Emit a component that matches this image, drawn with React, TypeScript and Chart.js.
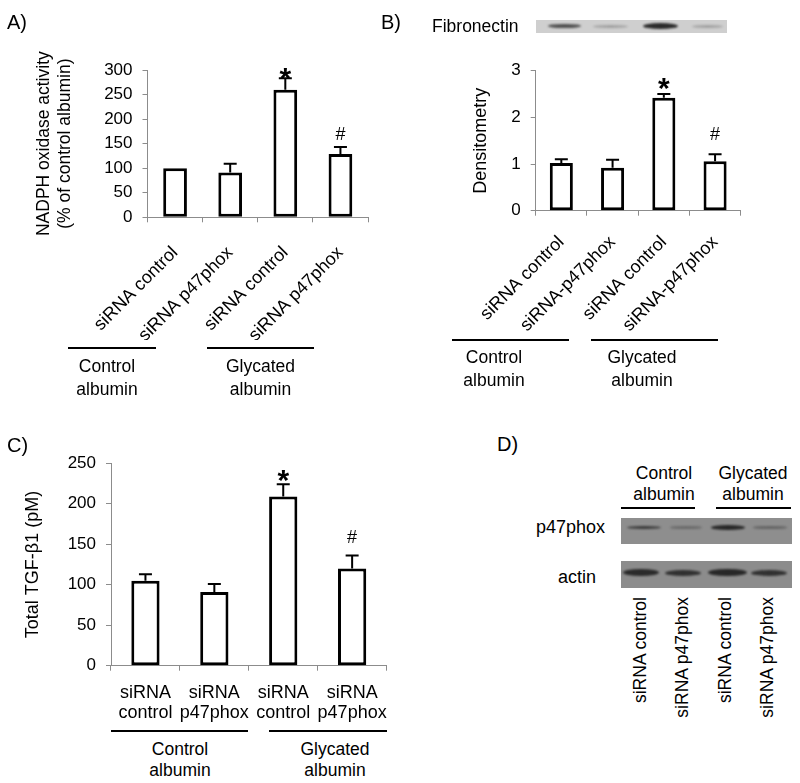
import React, { useEffect, useRef } from 'react';
import { Chart, registerables } from 'chart.js';

Chart.register(...registerables);

const FONT = "'Liberation Sans', Arial, Helvetica, sans-serif";
const AXIS = '#8c8c8c';

// ---------- Panel A data ----------
const aCategories = ['siRNA control', 'siRNA p47phox', 'siRNA control', 'siRNA p47phox'];
const aValues = [100, 91, 260, 129];
const aErrors = [0, 18, 23, 14];
const aMarks = ['', '', '*', '#'];
const aTicks = [0, 50, 100, 150, 200, 250, 300];
const aTitle = ['NADPH oxidase activity', '(% of control albumin)'];

// ---------- Panel B data ----------
const bCategories = ['siRNA control', 'siRNA-p47phox', 'siRNA control', 'siRNA-p47phox'];
const bValues = [1.02, 0.92, 2.42, 1.06];
const bErrors = [0.08, 0.17, 0.08, 0.15];
const bMarks = ['', '', '*', '#'];
const bTicks = [0, 1, 2, 3];
const bTitle = 'Densitometry';

// ---------- Panel C data ----------
const cCategories = [['siRNA', 'control'], ['siRNA', 'p47phox'], ['siRNA', 'control'], ['siRNA', 'p47phox']];
const cValues = [105, 91, 209, 120];
const cErrors = [8, 10, 15, 16];
const cMarks = ['', '', '*', '#'];
const cTicks = [0, 50, 100, 150, 200, 250];
const cTitle = 'Total TGF-\u03b21 (pM)';

// ---------- Shared labels ----------
const groupLabels = [['Control', 'albumin'], ['Glycated', 'albumin']];
const dLaneLabels = ['siRNA control', 'siRNA p47phox', 'siRNA control', 'siRNA p47phox'];
const dBlotNames = ['p47phox', 'actin'];

const errorBarPlugin = {
  id: 'errorBars',
  afterDatasetsDraw(chart: any, _args: any, opts: any) {
    const { ctx } = chart;
    const meta = chart.getDatasetMeta(0);
    const ys = chart.scales.y;
    const data = chart.data.datasets[0].data;
    meta.data.forEach((bar: any, i: number) => {
      const v = data[i];
      const e = opts.errors[i];
      const yBar = ys.getPixelForValue(v);
      const yTop = ys.getPixelForValue(v + e);
      ctx.save();
      ctx.strokeStyle = '#000';
      ctx.lineWidth = 2;
      if (e > 0) {
        ctx.beginPath();
        ctx.moveTo(bar.x, yBar);
        ctx.lineTo(bar.x, yTop);
        ctx.moveTo(bar.x - opts.cap / 2, yTop);
        ctx.lineTo(bar.x + opts.cap / 2, yTop);
        ctx.stroke();
      }
      const m = opts.marks[i];
      if (m) {
        const star = m === '*';
        const size = star ? opts.starSize : opts.hashSize;
        const dy = star ? opts.starDy : opts.hashDy;
        ctx.fillStyle = '#000';
        ctx.font = (star ? 'bold ' : '') + size + 'px ' + FONT;
        ctx.textAlign = 'center';
        ctx.textBaseline = 'alphabetic';
        const y = yTop - dy + (star ? 0.57 : 0.36) * size;
        ctx.fillText(m, bar.x, y);
      }
      ctx.restore();
    });
  },
};

type PanelCfg = {
  left: number; top: number; w: number; h: number;
  area: { l: number; t: number; r: number; b: number };
  labels: any[]; values: number[]; errors: number[]; marks: string[]; ticks: number[];
  title: any; titlePad: number; titleSize: number;
  rot: number; xPad: number; xSize: number; xLh: number; barPct: number;
  starDy: number; hashDy: number;
};

function BarPanel({ cfg }: { cfg: PanelCfg }) {
  const ref = useRef<HTMLCanvasElement>(null);
  useEffect(() => {
    const c = cfg;
    const chart = new Chart(ref.current as HTMLCanvasElement, {
      type: 'bar',
      data: {
        labels: c.labels,
        datasets: [{
          data: c.values,
          backgroundColor: '#ffffff',
          borderColor: '#000000',
          borderWidth: 3,
          borderSkipped: false,
          barPercentage: c.barPct,
          categoryPercentage: 1,
        }],
      },
      options: {
        animation: false,
        responsive: false,
        maintainAspectRatio: false,
        devicePixelRatio: 1,
        layout: { padding: { left: 0, top: c.area.t - c.top, right: c.left + c.w - c.area.r, bottom: 0 } },
        plugins: {
          legend: { display: false },
          tooltip: { enabled: false },
          errorBars: {
            errors: c.errors, marks: c.marks, cap: 13,
            starSize: 30, hashSize: 18, starDy: c.starDy, hashDy: c.hashDy,
          },
        } as any,
        scales: {
          x: {
            type: 'category',
            offset: true,
            grid: { display: true, drawOnChartArea: false, drawTicks: true, tickLength: 5, color: AXIS, offset: true },
            border: { display: true, color: AXIS, width: 1 },
            ticks: {
              autoSkip: false, minRotation: c.rot, maxRotation: c.rot, padding: c.xPad, color: '#000',
              font: { size: c.xSize, family: FONT, lineHeight: c.xLh },
            },
            afterFit: (s: any) => { s.height = c.top + c.h - c.area.b; },
          },
          y: {
            min: c.ticks[0],
            max: c.ticks[c.ticks.length - 1],
            grid: { display: true, drawOnChartArea: false, drawTicks: true, tickLength: 5, color: AXIS },
            border: { display: true, color: AXIS, width: 1 },
            ticks: { padding: 10, color: '#000', font: { size: 17, family: FONT, lineHeight: 1.2 } },
            afterBuildTicks: (s: any) => { s.ticks = c.ticks.map((v) => ({ value: v })); },
            afterFit: (s: any) => { s.width = c.area.l - c.left; },
            title: {
              display: true, text: c.title, color: '#000',
              font: { size: c.titleSize, family: FONT, lineHeight: 1.22 },
              padding: { top: c.titlePad, bottom: 0 },
            },
          },
        },
      } as any,
      plugins: [errorBarPlugin],
    });
    return () => chart.destroy();
  }, []);
  return (
    <canvas
      ref={ref}
      width={cfg.w}
      height={cfg.h}
      style={{ position: 'absolute', left: cfg.left, top: cfg.top, width: cfg.w, height: cfg.h }}
    />
  );
}

const panelA: PanelCfg = {
  left: 0, top: 0, w: 400, h: 340,
  area: { l: 147.5, t: 70, r: 368, b: 217.3 },
  labels: aCategories, values: aValues, errors: aErrors, marks: aMarks, ticks: aTicks,
  title: aTitle, titlePad: 33.5, titleSize: 17.5,
  rot: 45, xPad: 20, xSize: 18, xLh: 1.2, barPct: 0.43, starDy: 7, hashDy: 14,
};
const panelB: PanelCfg = {
  left: 400, top: 40, w: 400, h: 300,
  area: { l: 535.7, t: 70.7, r: 740.7, b: 210.7 },
  labels: bCategories, values: bValues, errors: bErrors, marks: bMarks, ticks: bTicks,
  title: bTitle, titlePad: 70.3, titleSize: 18,
  rot: 45, xPad: 16, xSize: 18, xLh: 1.2, barPct: 0.45, starDy: 13, hashDy: 21,
};
const panelC: PanelCfg = {
  left: 0, top: 400, w: 400, h: 330,
  area: { l: 111, t: 463.3, r: 389.3, b: 665.7 },
  labels: cCategories, values: cValues, errors: cErrors, marks: cMarks, ticks: cTicks,
  title: cTitle, titlePad: 22.5, titleSize: 18,
  rot: 0, xPad: 12, xSize: 18, xLh: 1.12, barPct: 0.41, starDy: 11, hashDy: 19,
};

const txt: React.CSSProperties = { position: 'absolute', fontFamily: FONT, color: '#000', whiteSpace: 'nowrap' };

function Group({ x1, x2, y, cx, ty, lh, label }: { x1: number; x2: number; y: number; cx: number; ty: number; lh: number; label: string[] }) {
  return (
    <>
      <div style={{ position: 'absolute', left: x1, top: y - 1, width: x2 - x1, height: 2, background: '#000' }} />
      <div style={{ ...txt, left: cx - 70, width: 140, top: ty - lh / 2, textAlign: 'center', fontSize: 17.5, lineHeight: lh + 'px' }}>
        {label[0]}<br />{label[1]}
      </div>
    </>
  );
}

function PanelLetter({ x, cy, t }: { x: number; cy: number; t: string }) {
  return <div style={{ ...txt, left: x, top: cy - 12, fontSize: 20, lineHeight: '24px' }}>{t}</div>;
}

// Blot band drawing (image-like, not chart data)
const fnBands = [
  { x1: 548, x2: 581, h: 4.5, a: 0.7 },
  { x1: 593, x2: 628, h: 3, a: 0.25 },
  { x1: 643, x2: 678, h: 6, a: 0.9 },
  { x1: 692, x2: 723, h: 3, a: 0.25 },
];
const p47Bands = [
  { x1: 627, x2: 661, h: 3.5, a: 0.7 },
  { x1: 670, x2: 702, h: 2.5, a: 0.3 },
  { x1: 711, x2: 745, h: 5, a: 0.88 },
  { x1: 753, x2: 787, h: 2.5, a: 0.35 },
];
const actinBands = [
  { x1: 623, x2: 659, h: 7, a: 0.85 },
  { x1: 665, x2: 701, h: 6, a: 0.8 },
  { x1: 708, x2: 747, h: 7.5, a: 0.88 },
  { x1: 751, x2: 787, h: 6, a: 0.8 },
];

function Blot({ x1, x2, y1, y2, bg, bands, yc }: any) {
  return (
    <>
      <div style={{ position: 'absolute', left: x1, top: y1, width: x2 - x1, height: y2 - y1, background: bg }} />
      {bands.map((b: any, i: number) => (
        <div key={i} style={{
          position: 'absolute', left: b.x1, top: yc - b.h / 2, width: b.x2 - b.x1, height: b.h,
          background: `rgba(25,25,25,${b.a})`, borderRadius: '50%', filter: 'blur(0.8px)',
        }} />
      ))}
    </>
  );
}

export default function App() {
  useEffect(() => {
    document.body.style.margin = '0';
    document.body.style.background = '#fff';
  }, []);
  const dLaneX = [640, 682, 725, 767];
  return (
    <div style={{ position: 'relative', width: 800, height: 783, background: '#fff', overflow: 'hidden' }}>
      <BarPanel cfg={panelA} />
      <BarPanel cfg={panelB} />
      <BarPanel cfg={panelC} />

      <PanelLetter x={7} cy={22} t="A)" />
      <PanelLetter x={381} cy={22} t="B)" />
      <PanelLetter x={7} cy={445} t="C)" />
      <PanelLetter x={497} cy={444} t="D)" />

      {/* Panel A groups */}
      <Group x1={68} x2={156} y={348} cx={107} ty={366} lh={23} label={groupLabels[0]} />
      <Group x1={207} x2={314} y={348} cx={260.5} ty={366} lh={23} label={groupLabels[1]} />

      {/* Panel B */}
      <div style={{ ...txt, left: 432, top: 15, fontSize: 17.5, lineHeight: '22px' }}>Fibronectin</div>
      <Blot x1={536} x2={727} y1={19.5} y2={32.5} bg="#cfcfcf" bands={fnBands} yc={26} />
      <Group x1={452} x2={569} y={340} cx={494} ty={357} lh={23} label={groupLabels[0]} />
      <Group x1={591} x2={718} y={340} cx={642} ty={357} lh={23} label={groupLabels[1]} />

      {/* Panel C groups */}
      <Group x1={111} x2={248} y={731} cx={180} ty={749} lh={21} label={groupLabels[0]} />
      <Group x1={269} x2={387} y={731} cx={335} ty={749} lh={21} label={groupLabels[1]} />

      {/* Panel D */}
      <Group x1={621} x2={695} y={508} cx={664} ty={473} lh={21} label={groupLabels[0]} />
      <Group x1={716} x2={791} y={508} cx={753} ty={473} lh={21} label={groupLabels[1]} />
      <Blot x1={621} x2={792} y1={518} y2={544} bg="#8e8e8e" bands={p47Bands} yc={527.7} />
      <Blot x1={621} x2={792} y1={561} y2={587.5} bg="#8c8c8c" bands={actinBands} yc={572.5} />
      <div style={{ ...txt, left: 455, width: 150, textAlign: 'right', top: 516, fontSize: 18, lineHeight: '22px' }}>{dBlotNames[0]}</div>
      <div style={{ ...txt, left: 446, width: 150, textAlign: 'right', top: 566, fontSize: 18, lineHeight: '22px' }}>{dBlotNames[1]}</div>
      {dLaneLabels.map((t, i) => (
        <div key={i} style={{
          ...txt, left: dLaneX[i] - 10, top: 597 + 140, width: 140, height: 20, textAlign: 'right',
          fontSize: 17.5, lineHeight: '20px', transform: 'rotate(-90deg)', transformOrigin: '0 0',
        }}>{t}</div>
      ))}
    </div>
  );
}
